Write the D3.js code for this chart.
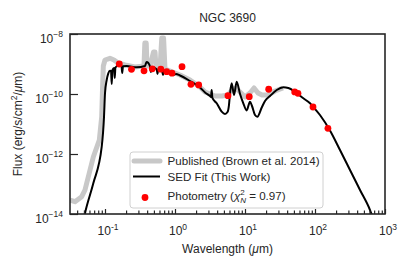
<!DOCTYPE html>
<html>
<head>
<meta charset="utf-8">
<script src="https://cdn.jsdelivr.net/npm/d3@7"></script>
<style>
body { margin: 0; background: #fff; }
text { font-family: "Liberation Sans", Arial, sans-serif; fill: #262626; }
</style>
</head>
<body>
<div id="chart"></div>
<script>
// Photometry points (wavelength in micron, flux in erg/s/cm2/micron)
var photWave = [0.16, 0.239, 0.361, 0.474, 0.627, 0.761, 0.906, 1.26, 1.69, 2.18, 5.71, 11.5, 21.8, 51.3, 57.1, 93.6, 153];
var photFlux = [1.0e-9, 6.65e-10, 5.93e-10, 6.92e-10, 6.71e-10, 5.53e-10, 4.93e-10, 8.13e-10, 2.10e-10, 2.0e-10,
                8.77e-11, 8.13e-11, 1.44e-10, 1.17e-10, 1.05e-10, 3.69e-11, 7.19e-12];

// SED fit (this work): log10(micron), log10(flux)
var sedLogWave = [-1.3, -1.286, -1.167, -1.047, -1.014, -1.0, -0.976, -0.953, -0.929, -0.914, -0.904, -0.894, -0.871, -0.861, -0.851,
                  -0.796, -0.764, -0.754, -0.743, -0.69, -0.547, -0.429, -0.407, -0.381, -0.357, -0.343, -0.329, -0.261, -0.25, -0.239,
                  -0.186, -0.171, -0.157, -0.119, -0.024, 0.014, 0.071, 0.214, 0.357, 0.429, 0.5, 0.514, 0.524, 0.534, 0.596,
                  0.667, 0.714, 0.75, 0.771, 0.786, 0.81, 0.843, 0.881, 0.929, 0.976, 1.024, 1.071, 1.1, 1.143, 1.176,
                  1.239, 1.286, 1.357, 1.453, 1.547, 1.619, 1.714, 1.833, 1.929, 1.976, 2.071, 2.214, 2.357, 2.5, 2.643, 2.786, 2.829];
var sedLogFlux = [-14.13, -13.977, -12.977, -11.757, -10.757, -9.977, -9.533, -9.31, -9.223, -9.233, -9.667, -9.2, -9.133, -9.467, -9.117,
                  -9.033, -9.067, -9.3, -9.077, -9.067, -9.11, -9.067, -8.933, -8.967, -9.083, -9.267, -9.1, -9.177, -9.333, -9.183,
                  -9.217, -9.367, -9.227, -9.257, -9.367, -9.333, -9.383, -9.567, -9.783, -9.95, -10.067, -10.1, -9.867, -10.133, -10.31,
                  -10.59, -10.667, -10.6, -10.367, -9.977, -9.643, -10.033, -9.59, -10.0, -10.31, -10.55, -10.257, -10.4, -10.7, -10.757,
                  -10.45, -10.233, -10.067, -9.867, -9.777, -9.8, -9.923, -10.143, -10.31, -10.433, -10.7, -11.217, -11.867, -12.533, -13.2, -13.867, -14.13];

// Published spectrum (Brown et al. 2014)
var pubLogWave = [-1.5, -1.429, -1.333, -1.286, -1.167, -1.081, -1.047, -1.036, -1.024, -1.0, -0.929, -0.871, -0.814, -0.714, -0.571,
                  -0.443, -0.431, -0.411, -0.4, -0.357, -0.307, -0.286, -0.271, -0.214, -0.189, -0.163, -0.143, -0.071, 0.0, 0.071,
                  0.214, 0.357, 0.429, 0.5, 0.571, 0.671, 0.757, 0.814, 0.871, 0.929, 1.0, 1.071, 1.129, 1.186, 1.243, 1.329, 1.429, 1.543];
var pubLogFlux = [-13.533, -13.59, -13.423, -13.2, -12.1, -11.533, -10.757, -9.867, -9.067, -8.867, -8.81, -8.867, -8.967, -9.033, -9.1,
                  -9.067, -8.3, -8.3, -9.067, -9.067, -8.6, -8.6, -9.1, -9.133, -8.133, -8.133, -9.167, -9.233, -9.3, -9.367,
                  -9.533, -9.767, -9.933, -10.0, -10.067, -10.067, -10.033, -9.867, -9.8, -9.933, -10.1, -9.967, -9.8, -9.967, -10.033, -10.033, -9.9, -9.8];

var xMajor = [0.1, 1, 10, 100, 1000];
var xMajorExp = ["-1", "0", "1", "2", "3"];
var yMajor = [1e-8, 1e-10, 1e-12, 1e-14];
var yMajorExp = ["-8", "-10", "-12", "-14"];

var W = 407, H = 271;
var margin = { top: 34, right: 22, bottom: 57, left: 70 };
var width = W - margin.left - margin.right;
var height = H - margin.top - margin.bottom;

var svg = d3.select("#chart").append("svg")
    .attr("width", W)
    .attr("height", H);

var g = svg.append("g")
    .attr("transform", "translate(" + margin.left + "," + margin.top + ")");

var x = d3.scaleLog().domain([Math.pow(10, -1.5), 1000]).range([0, width]);
var y = d3.scaleLog().domain([1e-14, 1e-8]).range([height, 0]);

// minor ticks 2..9 for each decade
var xMinor = [];
[0.01, 0.1, 1, 10, 100].forEach(function(dec) {
    for (var k = 2; k <= 9; k++) {
        var v = dec * k;
        if (v >= x.domain()[0] && v <= 1000) xMinor.push(v);
    }
});

g.append("clipPath").attr("id", "plot-clip")
  .append("rect").attr("width", width).attr("height", height);

var sed = sedLogWave.map(function(w, i) { return { w: Math.pow(10, w), f: Math.pow(10, sedLogFlux[i]) }; });
var pub = pubLogWave.map(function(w, i) { return { w: Math.pow(10, w), f: Math.pow(10, pubLogFlux[i]) }; });
var phot = photWave.map(function(w, i) { return { w: w, f: photFlux[i] }; });

var line = d3.line()
    .x(function(d) { return x(d.w); })
    .y(function(d) { return y(d.f); });

var plot = g.append("g").attr("clip-path", "url(#plot-clip)");

plot.append("path")
    .datum(pub)
    .attr("d", line)
    .attr("fill", "none")
    .attr("stroke", "#c8c8c8")
    .attr("stroke-width", 5)
    .attr("stroke-linejoin", "round");

// smoother curve for the model
plot.append("path")
    .datum(sed)
    .attr("d", line.curve(d3.curveMonotoneX))
    .attr("fill", "none")
    .attr("stroke", "#000")
    .attr("stroke-width", 2)
    .attr("stroke-linejoin", "round");

plot.selectAll(".phot")
    .data(phot)
  .enter().append("circle")
    .attr("class", "phot")
    .attr("cx", function(d) { return x(d.w); })
    .attr("cy", function(d) { return y(d.f); })
    .attr("r", 3.4)
    .attr("fill", "#ff0000");

// axes, ticks pointing inward
var xAxisMinor = g.append("g")
    .attr("transform", "translate(0," + height + ")")
    .call(d3.axisBottom(x).tickValues(xMinor).tickSize(-3.5).tickFormat(""));
var xAxisMajor = g.append("g")
    .attr("transform", "translate(0," + height + ")")
    .call(d3.axisBottom(x).tickValues(xMajor).tickSize(-5).tickFormat(""));
var yAxis = g.append("g")
    .call(d3.axisLeft(y).tickValues(yMajor).tickSize(-8).tickFormat(""));

[xAxisMinor, xAxisMajor, yAxis].forEach(function(a) {
    a.select(".domain").remove();
    a.selectAll("line").attr("stroke", "#262626").attr("stroke-width", 1.2);
});

// x tick labels 10^n
xMajor.forEach(function(v, i) {
    var t = g.append("text")
        .attr("x", x(v) + 3)
        .attr("y", height + 21)
        .attr("text-anchor", "middle")
        .style("font-size", "12px");
    t.append("tspan").text("10");
    t.append("tspan").attr("dy", -5.5).style("font-size", "8.5px").text(xMajorExp[i]);
});

// y tick labels
yMajor.forEach(function(v, i) {
    var t = g.append("text")
        .attr("x", -7)
        .attr("y", y(v) + 8.5)
        .attr("text-anchor", "end")
        .style("font-size", "12px");
    t.append("tspan").text("10");
    t.append("tspan").attr("dy", -5.5).style("font-size", "8.5px").text("\u2212" + yMajorExp[i].slice(1));
});

// frame
g.append("rect")
    .attr("width", width)
    .attr("height", height)
    .attr("fill", "none")
    .attr("stroke", "#262626")
    .attr("stroke-width", 1.6);

// title
svg.append("text")
    .attr("x", margin.left + width / 2)
    .attr("y", 22)
    .attr("text-anchor", "middle")
    .style("font-size", "12px")
    .text("NGC 3690");

// x label
var xl = svg.append("text")
    .attr("x", margin.left + width / 2)
    .attr("y", 253)
    .attr("text-anchor", "middle")
    .style("font-size", "12px");
xl.append("tspan").text("Wavelength (");
xl.append("tspan").style("font-style", "italic").text("\u03bc");
xl.append("tspan").text("m)");

// y label
var yl = svg.append("text")
    .attr("transform", "translate(22," + (margin.top + height / 2) + ") rotate(-90)")
    .attr("text-anchor", "middle")
    .style("font-size", "12px");
yl.append("tspan").text("Flux (erg/s/cm");
yl.append("tspan").attr("dy", -5).style("font-size", "8.5px").text("2");
yl.append("tspan").attr("dy", 5).text("/");
yl.append("tspan").style("font-style", "italic").text("\u03bc");
yl.append("tspan").text("m)");

// legend
var leg = svg.append("g").attr("transform", "translate(130,152)");
leg.append("rect")
    .attr("width", 193)
    .attr("height", 56)
    .attr("rx", 3)
    .attr("fill", "#fff")
    .attr("fill-opacity", 0.8)
    .attr("stroke", "#d0d0d0")
    .attr("stroke-width", 1);

leg.append("line")
    .attr("x1", 4).attr("x2", 30).attr("y1", 9).attr("y2", 9)
    .attr("stroke", "#c8c8c8").attr("stroke-width", 5).attr("stroke-linecap", "round");
leg.append("line")
    .attr("x1", 3).attr("x2", 30).attr("y1", 24.5).attr("y2", 24.5)
    .attr("stroke", "#000").attr("stroke-width", 2);
leg.append("circle")
    .attr("cx", 15).attr("cy", 45.5).attr("r", 3.4).attr("fill", "#ff0000");

leg.append("text").attr("x", 37.5).attr("y", 13.2).style("font-size", "11.6px")
    .text("Published (Brown et al. 2014)");
leg.append("text").attr("x", 37.5).attr("y", 28.7).style("font-size", "11.6px")
    .text("SED Fit (This Work)");
var pl = leg.append("text").attr("x", 37.5).attr("y", 47.5).style("font-size", "11.6px");
pl.append("tspan").text("Photometry (");
pl.append("tspan").style("font-style", "italic").text("\u03c7");
pl.append("tspan").attr("dy", -5).style("font-size", "8px").text("2");
pl.append("tspan").attr("dx", -4.5).attr("dy", 8).style("font-size", "8px").style("font-style", "italic").text("N");
pl.append("tspan").attr("dy", -3).text(" = 0.97)");
</script>
</body>
</html>
